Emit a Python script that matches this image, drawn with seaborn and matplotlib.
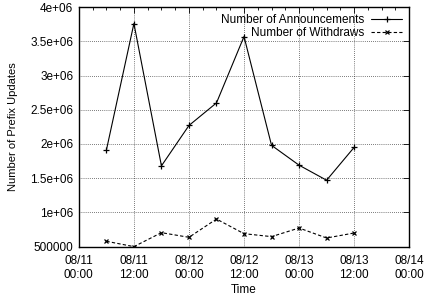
import pandas as pd
import numpy as np
import seaborn as sns
import matplotlib.pyplot as plt
import matplotlib.dates as mdates
from matplotlib.ticker import FuncFormatter, MultipleLocator

# Data (6-hour samples)
times = ["2008-08-11 06:00", "2008-08-11 12:00", "2008-08-11 18:00",
         "2008-08-12 00:00", "2008-08-12 06:00", "2008-08-12 12:00",
         "2008-08-12 18:00", "2008-08-13 00:00", "2008-08-13 06:00",
         "2008-08-13 12:00"]
announcements = [1.91e6, 3.76e6, 1.68e6, 2.27e6, 2.60e6, 3.57e6,
                 1.98e6, 1.69e6, 1.47e6, 1.95e6]
withdraws = [578000, 500000, 704000, 636000, 903000, 689000,
             646000, 772000, 626000, 699000]

df = pd.DataFrame({
    "Time": pd.to_datetime(times),
    "Number of Announcements": announcements,
    "Number of Withdraws": withdraws,
})

sns.set_style("white")
plt.rcParams['font.family'] = ['Liberation Sans', 'DejaVu Sans']
plt.rcParams['font.size'] = 8
for key in ["text.color", "axes.labelcolor", "xtick.color", "ytick.color"]:
    plt.rcParams[key] = "black"

fig = plt.figure(figsize=(4.24, 2.95), dpi=100)
ax = fig.add_axes([0.186, 0.164, 0.779, 0.812])

sns.lineplot(data=df, x="Time", y="Number of Announcements", ax=ax,
             color="black", linewidth=0.8, marker="+", markersize=5,
             markeredgewidth=0.9, markeredgecolor="black",
             label="Number of Announcements")
sns.lineplot(data=df, x="Time", y="Number of Withdraws", ax=ax,
             color="black", linewidth=0.8, linestyle=(0, (3, 2)), marker="x",
             markersize=3.5, markeredgewidth=0.9, markeredgecolor="black",
             label="Number of Withdraws")

ax.set_xlim(pd.Timestamp("2008-08-11 00:00"), pd.Timestamp("2008-08-14 00:00"))
ax.set_ylim(500000, 4e6)
ax.yaxis.set_major_locator(MultipleLocator(500000))
ax.yaxis.set_major_formatter(FuncFormatter(lambda v, p: "%g" % v))
ax.xaxis.set_major_locator(mdates.HourLocator(byhour=[0, 12]))
ax.xaxis.set_minor_locator(mdates.HourLocator(byhour=[3, 6, 9, 15, 18, 21]))
ax.xaxis.set_major_formatter(mdates.DateFormatter("%m/%d\n%H:%M"))

ax.grid(True, which="major", color="black", linestyle=(0, (1, 2)), linewidth=0.5)
for s in ax.spines.values():
    s.set_color("black")
    s.set_linewidth(1.0)
ax.tick_params(which="both", direction="in", top=True, right=True,
               color="black", labelsize=8.5, pad=4)
ax.tick_params(which="major", length=4, width=0.6)
ax.tick_params(which="minor", length=2, width=0.6)
ax.tick_params(axis="x", which="major", pad=6)

ax.set_xlabel("Time", fontsize=8.5, labelpad=2)
ax.set_ylabel("Number of Prefix Updates", fontsize=8, labelpad=9)

ax.legend(loc="upper right", frameon=False, markerfirst=False, fontsize=8.5,
          handlelength=2.6, handletextpad=0.6, labelspacing=0.1,
          borderaxespad=0.2)

fig.savefig("out.png", dpi=100)
